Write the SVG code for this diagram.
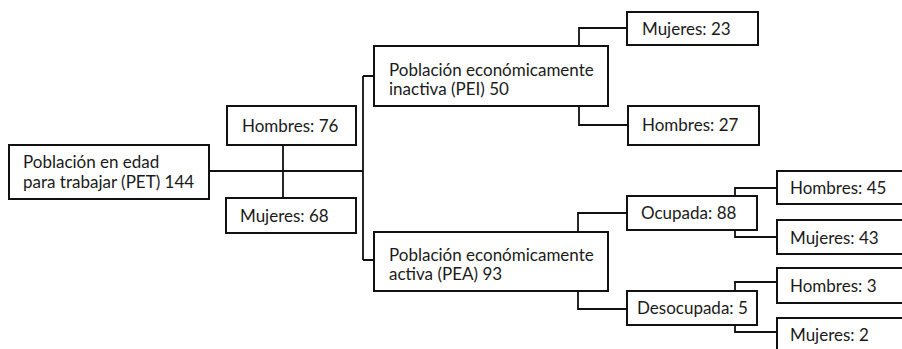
<svg xmlns="http://www.w3.org/2000/svg" width="902" height="349" viewBox="0 0 902 349">
<style>
rect.box{fill:#fff;stroke:#111;stroke-width:2}
.con path{fill:none;stroke:#111;stroke-width:1.8}
text{font-family:Lato,"Open Sans","Liberation Sans",sans-serif;font-size:17px;fill:#1a1a1a}
</style>
<rect width="902" height="349" fill="#fff"/>
<g id="connectors" class="con">
<path d="M209,171H363M283,145V198M363,76V260M363,76H374M363,260H374"/>
<path d="M579,46V28H627M579,106V125H628"/>
<path d="M578,232V213H627M578,291V309H627"/>
<path d="M735,196V188H777M735,230V237H777"/>
<path d="M735,291V282H777M735,325V332H777"/>
</g>
<g id="pet"><rect class="box" x="9" y="145" width="200" height="54"/><text x="23" y="167.5">Población en edad</text><text x="23" y="187.5">para trabajar (PET) 144</text></g>
<g id="hombres76"><rect class="box" x="227" y="106" width="129" height="39"/><text x="242" y="131.5">Hombres: 76</text></g>
<g id="mujeres68"><rect class="box" x="226" y="198" width="130" height="35"/><text x="240" y="222">Mujeres: 68</text></g>
<g id="pei"><rect class="box" x="374" y="46" width="234" height="60"/><text x="389" y="76">Población económicamente</text><text x="389" y="95">inactiva (PEI) 50</text></g>
<g id="pea"><rect class="box" x="374" y="232" width="234" height="59"/><text x="389" y="261">Población económicamente</text><text x="389" y="280">activa (PEA) 93</text></g>
<g id="mujeres23"><rect class="box" x="627" y="12" width="131" height="33"/><text x="642" y="34.5">Mujeres: 23</text></g>
<g id="hombres27"><rect class="box" x="628" y="106" width="131" height="39"/><text x="642" y="131">Hombres: 27</text></g>
<g id="ocupada"><rect class="box" x="627" y="196" width="130" height="34"/><text x="641" y="219">Ocupada: 88</text></g>
<g id="desocupada"><rect class="box" x="627" y="291" width="130" height="34"/><text x="637" y="314">Desocupada: 5</text></g>
<g id="hombres45"><rect class="box" x="777" y="171" width="140" height="33"/><text x="790" y="194">Hombres: 45</text></g>
<g id="mujeres43"><rect class="box" x="777" y="220" width="140" height="34"/><text x="790" y="243.5">Mujeres: 43</text></g>
<g id="hombres3"><rect class="box" x="777" y="268" width="140" height="35"/><text x="790" y="291.5">Hombres: 3</text></g>
<g id="mujeres2"><rect class="box" x="777" y="318" width="140" height="45"/><text x="790" y="340.5">Mujeres: 2</text></g>
</svg>
